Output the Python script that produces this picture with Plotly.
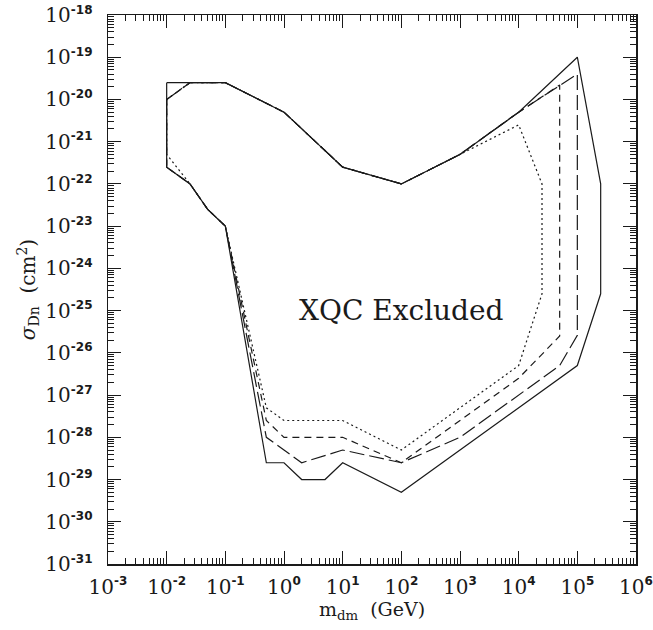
import plotly.graph_objects as go

# ---- data ----
solid_x = [1e-2, 1e-1, 1, 10, 100, 1e3, 1e4, 1e5, 2.5e5, 2.5e5, 1e5, 100, 10, 5, 2, 1, 0.5, 0.1, 0.05, 0.025, 1e-2, 1e-2]
solid_y = [2.5e-20, 2.5e-20, 5e-21, 2.5e-22, 1e-22, 5e-22, 5e-21, 1e-19, 1e-22, 2.5e-25, 5e-27, 5e-30, 2.5e-29, 1e-29, 1e-29, 2.5e-29, 2.5e-29, 1e-23, 2.5e-23, 1e-22, 2.5e-22, 2.5e-20]

longdash_x = [1e-2, 0.025, 0.1, 1, 10, 100, 1e3, 1e4, 1e5, 1e5, 5e4, 1e3, 100, 10, 2, 0.5, 0.1, 0.05, 0.025, 1e-2, 1e-2]
longdash_y = [1e-20, 2.5e-20, 2.5e-20, 5e-21, 2.5e-22, 1e-22, 5e-22, 5e-21, 4e-20, 2.6e-26, 5e-27, 1e-28, 2.5e-29, 5e-29, 2.5e-29, 1e-28, 1e-23, 2.5e-23, 1e-22, 2.5e-22, 1e-20]

shortdash_x = [1e-2, 0.025, 0.1, 1, 10, 100, 1e3, 1e4, 5e4, 5e4, 1e4, 100, 10, 1, 0.5, 0.1, 0.05, 0.025, 1e-2, 1e-2]
shortdash_y = [1e-20, 2.5e-20, 2.5e-20, 5e-21, 2.5e-22, 1e-22, 5e-22, 5e-21, 2.2e-20, 2.5e-26, 2.5e-27, 2.5e-29, 1e-28, 1e-28, 2.5e-28, 1e-23, 2.5e-23, 1e-22, 2.5e-22, 1e-20]

dotted_x = [1e-2, 0.025, 0.1, 1, 10, 100, 1e3, 1e4, 2.5e4, 2.5e4, 1e4, 100, 10, 1, 0.5, 0.1, 0.05, 0.025, 1e-2, 1e-2]
dotted_y = [1e-20, 2.5e-20, 2.5e-20, 5e-21, 2.5e-22, 1e-22, 5e-22, 2.5e-21, 1e-22, 2.5e-25, 5e-27, 5e-29, 2.5e-28, 2.5e-28, 5e-28, 1e-23, 2.5e-23, 1e-22, 5e-22, 1e-20]

x_tick_exp = [-3, -2, -1, 0, 1, 2, 3, 4, 5, 6]
y_tick_exp = [-31, -30, -29, -28, -27, -26, -25, -24, -23, -22, -21, -20, -19, -18]

label_text = "XQC Excluded"

FONT = "DejaVu Serif"
SUPFONT = "DejaVu Sans"
INK = "#1a1a1a"

fig = go.Figure()
curves = [
    (dotted_x, dotted_y, "2px,3px"),
    (shortdash_x, shortdash_y, "7px,5px"),
    (longdash_x, longdash_y, "15px,5px"),
    (solid_x, solid_y, "solid"),
]
for xs, ys, dash in curves:
    fig.add_trace(go.Scatter(x=xs, y=ys, mode="lines",
                             line=dict(color=INK, width=1.2, dash=dash),
                             showlegend=False, hoverinfo="skip"))

fig.add_annotation(x=2, y=-25, xref="x", yref="y", text=label_text,
                   showarrow=False, font=dict(family=FONT, size=28, color=INK))


def tick_label(e):
    return (f"10<sup><span style='font-family:{SUPFONT};font-weight:bold;"
            f"font-size:12px'>{e}</span></sup>")


def axis_common():
    return dict(type="log", showgrid=False, zeroline=False, automargin=False,
                showline=True, linecolor=INK, linewidth=1.5, mirror="allticks",
                ticks="inside", ticklen=13, tickwidth=1, tickcolor=INK,
                minor=dict(ticks="inside", ticklen=6, tickwidth=1, tickcolor=INK,
                           dtick="D1", showgrid=False),
                ticklabeloverflow="allow",
                tickfont=dict(family=FONT, size=20, color=INK))


xa = axis_common()
xa.update(range=[-3, 6], ticklabelstandoff=4,
          tickvals=[10.0 ** e for e in x_tick_exp],
          ticktext=[tick_label(e) for e in x_tick_exp],
          title=dict(text="m<sub>dm</sub>  (GeV)", font=dict(family=FONT, size=19, color=INK), standoff=0))
ya = axis_common()
ya.update(range=[-31, -18], ticklabelstandoff=10,
          tickvals=[10.0 ** e for e in y_tick_exp],
          ticktext=[tick_label(e) for e in y_tick_exp],
          title=dict(text="<i>σ</i><sub>Dn</sub>  (cm<sup>2</sup>)", font=dict(family=FONT, size=20, color=INK), standoff=4))

fig.update_layout(width=653, height=630,
                  margin=dict(l=108, r=17, t=15, b=66),
                  paper_bgcolor="white", plot_bgcolor="white",
                  xaxis=xa, yaxis=ya)

fig.write_html("out.html", config={"displayModeBar": False, "staticPlot": True},
               post_script="document.body.style.margin='0';document.body.style.overflow='hidden';")
